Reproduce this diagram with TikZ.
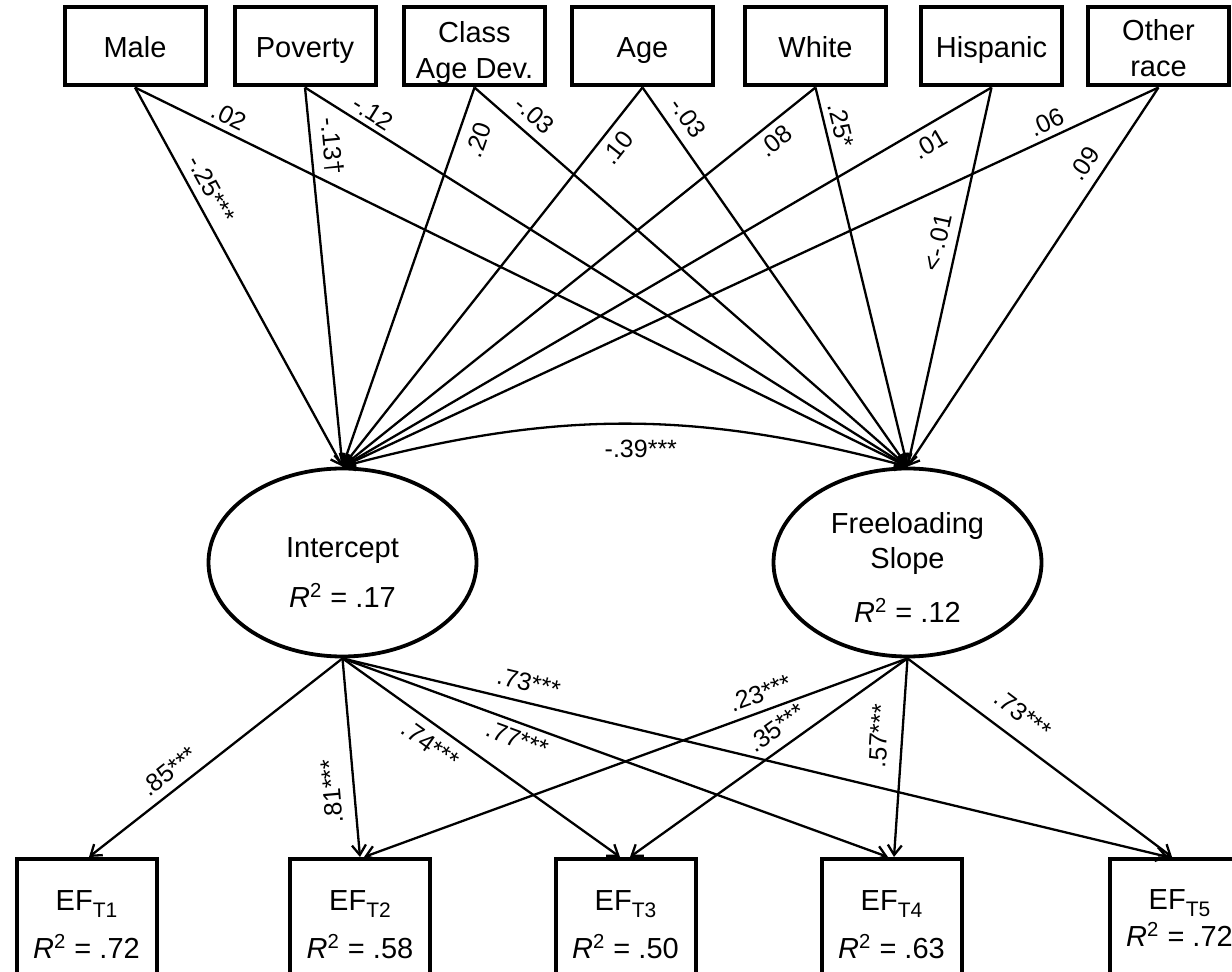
\documentclass[tikz,border=0pt]{standalone}
\usepackage{fontspec}
\setmainfont{Liberation Sans}
\usetikzlibrary{arrows.meta,shapes.geometric}
\newcommand{\mystrut}[1]{\rule[-3.5pt]{0pt}{#1}}
\newcommand{\efsub}[1]{EF\raisebox{-3.5pt}{\fontsize{10.5}{12}\selectfont #1}}
\begin{document}
\begin{tikzpicture}[x=0.5pt,y=-0.5pt,
  obs/.style={draw, line width=2pt, rectangle, minimum width=70.5pt, minimum height=39pt, inner sep=0pt, align=center, font=\fontsize{14.5}{18}\selectfont},
  efbox/.style={draw, line width=2pt, rectangle, minimum width=70pt, minimum height=66pt, inner sep=0pt, align=center, font=\fontsize{14.5}{24}\selectfont},
  lat/.style={draw, ellipse, line width=1.9pt, minimum width=134pt, minimum height=94pt, inner sep=0pt, align=center, font=\fontsize{14.5}{25}\selectfont},
  conn/.style={line width=1.15pt, -{Straight Barb[length=5pt,width=7pt]}},
  lab/.style={font=\fontsize{12.5}{14}\selectfont, inner sep=4pt, sloped},
  labr/.style={font=\fontsize{12.5}{14}\selectfont, inner sep=1.5pt},
]
\useasboundingbox (0,0) rectangle (1232,972);
% observed predictors
\node[obs] (male)  at (135,46.5)    {\mystrut{17.9pt}Male};
\node[obs] (pov)   at (305,46.5)    {\mystrut{17.9pt}Poverty};
\node[obs] (cad)   at (474.5,46.5)  {\mystrut{20.9pt}Class\\\mystrut{14.5pt}Age Dev.};
\node[obs] (age)   at (642.5,46.5)  {\mystrut{17.9pt}Age};
\node[obs] (white) at (815.5,46.5)  {\mystrut{17.9pt}White};
\node[obs] (hisp)  at (991.5,46.5)  {\mystrut{17.9pt}Hispanic};
\node[obs] (oth)   at (1158.5,46.5) {\mystrut{18.9pt}Other\\\mystrut{14.5pt}race};
% latent factors
\node[lat] (int) at (342.5,562.5) {\rule{0pt}{20.5pt}Intercept\\\textit{R}\textsuperscript{2} = .17};
\node[lat, font=\fontsize{14.5}{17.5}\selectfont] (slope) at (907.5,562.5) {\rule{0pt}{15.5pt}Freeloading\\Slope\\[9.5pt]\textit{R}\textsuperscript{2} = .12};
% EF indicators
\node[efbox] (t1) at (86.5,925)  {\efsub{T1}\\\textit{R}\textsuperscript{2} = .72};
\node[efbox] (t2) at (360,925)   {\efsub{T2}\\\textit{R}\textsuperscript{2} = .58};
\node[efbox] (t3) at (625.5,925) {\efsub{T3}\\\textit{R}\textsuperscript{2} = .50};
\node[efbox] (t4) at (891.5,925) {\efsub{T4}\\\textit{R}\textsuperscript{2} = .63};
\node[efbox, font=\fontsize{14.5}{18.5}\selectfont] (t5) at (1179.5,925) {\efsub{T5}\\\textit{R}\textsuperscript{2} = .72\rule[-7pt]{0pt}{0pt}};
% predictor paths
\draw[conn] (male.south)  -- node[lab, pos=.29, above] {-.25***} (int.north);
\draw[conn] (male.south)  -- node[lab, pos=.113, above, inner sep=3pt] {.02} (slope.north);
\draw[conn] (pov.south)   -- node[lab, pos=.16, above, inner sep=5pt] {-.13†} (int.north);
\draw[conn] (pov.south)   -- node[lab, pos=.10, above, inner sep=2.5pt] {-.12} (slope.north);
\draw[conn] (cad.south)   -- node[lab, pos=.12, below, inner sep=5.5pt] {.20} (int.north);
\draw[conn] (cad.south)   -- node[lab, pos=.11, above, inner sep=4.5pt] {-.03} (slope.north);
\draw[conn] (age.south)   -- node[lab, pos=.13, below] {.10} (int.north);
\draw[conn] (age.south)   -- node[lab, pos=.11, above, inner sep=5pt] {-.03} (slope.north);
\draw[conn] (white.south) -- node[lab, pos=.107, below, inner sep=3.5pt] {.08} (int.north);
\draw[conn] (white.south) -- node[lab, pos=.11, above, inner sep=3pt] {.25*} (slope.north);
\draw[conn] (hisp.south)  -- node[lab, pos=.108, below] {.01} (int.north);
\draw[conn] (hisp.south)  -- node[lab, pos=.42, above, inner sep=4.5pt] {<-.01} (slope.north);
\draw[conn] (oth.south)   -- node[lab, pos=.129, above, inner sep=3pt] {.06} (int.north);
\draw[conn] (oth.south)   -- node[lab, pos=.23, above, inner sep=5pt] {.09} (slope.north);
% covariance
\draw[line width=1.15pt, {Straight Barb[length=5pt,width=7pt]}-{Straight Barb[length=5pt,width=7pt]}]
  (int.north) to[bend left=15] node[labr, pos=.53, below=6pt] {-.39***} (slope.north);
% loadings
\draw[conn] (int.south) -- node[lab, pos=.64, above] {.85***} ([xshift=1.25pt]t1.north);
\draw[conn] (int.south) -- node[labr, pos=.66, rotate=95, anchor=south, inner sep=6pt] {.81***} (t2.north);
\draw[conn] (int.south) -- node[lab, pos=.357, below, inner sep=4.5pt] {.74***} ([xshift=-2.75pt]t3.north);
\draw[conn] (int.south) -- node[lab, pos=.33, below, inner sep=3pt] {.77***} ([xshift=-1.75pt]t4.north);
\draw[conn] (int.south) -- node[lab, pos=.22, above, inner sep=5pt] {.73***} ([xshift=-5.75pt]t5.north);
\draw[conn] (slope.south) -- node[lab, pos=.26, above] {.23***} ([xshift=2pt]t2.north);
\draw[conn] (slope.south) -- node[lab, pos=.43, above, inner sep=5pt] {.35***} ([xshift=2.25pt]t3.north);
\draw[conn] (slope.south) -- node[lab, pos=.40, above, inner sep=6.5pt] {.57***} ([xshift=1.25pt]t4.north);
\draw[conn] (slope.south) -- node[lab, pos=.38, above, inner sep=7.5pt] {.73***} ([xshift=-3.75pt]t5.north);
\end{tikzpicture}
\end{document}
